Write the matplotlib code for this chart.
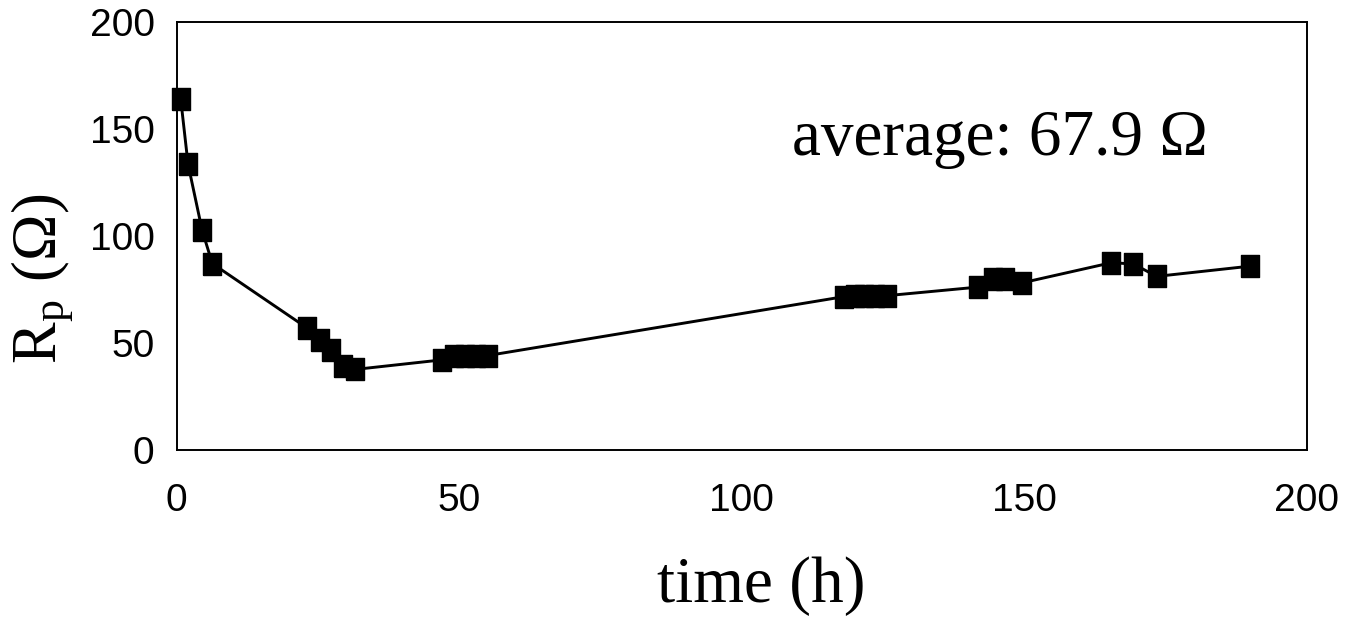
import matplotlib
matplotlib.use('Agg')
import matplotlib.pyplot as plt

# data
time_h = [0.7, 2, 4.5, 6.3, 23, 25.3, 27.3, 29.4, 31.5,
          47, 49, 51, 53, 55,
          118, 120, 121.7, 123.6, 125.7,
          141.8, 144.5, 146.6, 149.6,
          165.4, 169.3, 173.4, 190]
rp_ohm = [164, 133.5, 102.5, 87, 57, 51.5, 46.5, 39, 37.5,
          42, 44, 44, 44, 44,
          71.5, 72, 72, 72, 72,
          76, 80, 80, 78,
          87.4, 86.8, 81, 85.8]

x_ticks = [0, 50, 100, 150, 200]
y_ticks = [0, 50, 100, 150, 200]
note = 'average: 67.9 Ω'

plt.rcParams['mathtext.fontset'] = 'stix'
serif = ['Liberation Serif', 'DejaVu Serif']
sans = ['Liberation Sans Narrow', 'Liberation Sans', 'DejaVu Sans']

fig = plt.figure(figsize=(13.7, 6.22), dpi=100)
ax = fig.add_axes([0.129, 0.277, 0.825, 0.688])

rect = [(-0.77, -1), (0.77, -1), (0.77, 1), (-0.77, 1), (-0.77, -1)]
ax.plot(time_h, rp_ohm, color='black', lw=2.1, marker=rect, ms=16,
        markerfacecolor='black', markeredgecolor='black', clip_on=False)

ax.set_xlim(0, 200)
ax.set_ylim(0, 200)
ax.set_xticks(x_ticks)
ax.set_yticks(y_ticks)
ax.tick_params(length=0, labelsize=28)
ax.tick_params(axis='x', pad=24)
ax.tick_params(axis='y', pad=16)
for lab in ax.get_xticklabels() + ax.get_yticklabels():
    lab.set_family(sans)
for s in ax.spines.values():
    s.set_linewidth(1.4)

ax.set_xlabel('time (h)', family=serif, fontsize=47)
ax.xaxis.set_label_coords(0.517, -0.25)
ax.set_ylabel(r'R$_\mathregular{p}$ (Ω)', family=serif, fontsize=45)
ax.yaxis.set_label_coords(-0.09, 0.40)
ax.text(0.544, 0.689, note, transform=ax.transAxes, family=serif,
        fontsize=47, va='baseline')

fig.savefig('out.png', dpi=100)
